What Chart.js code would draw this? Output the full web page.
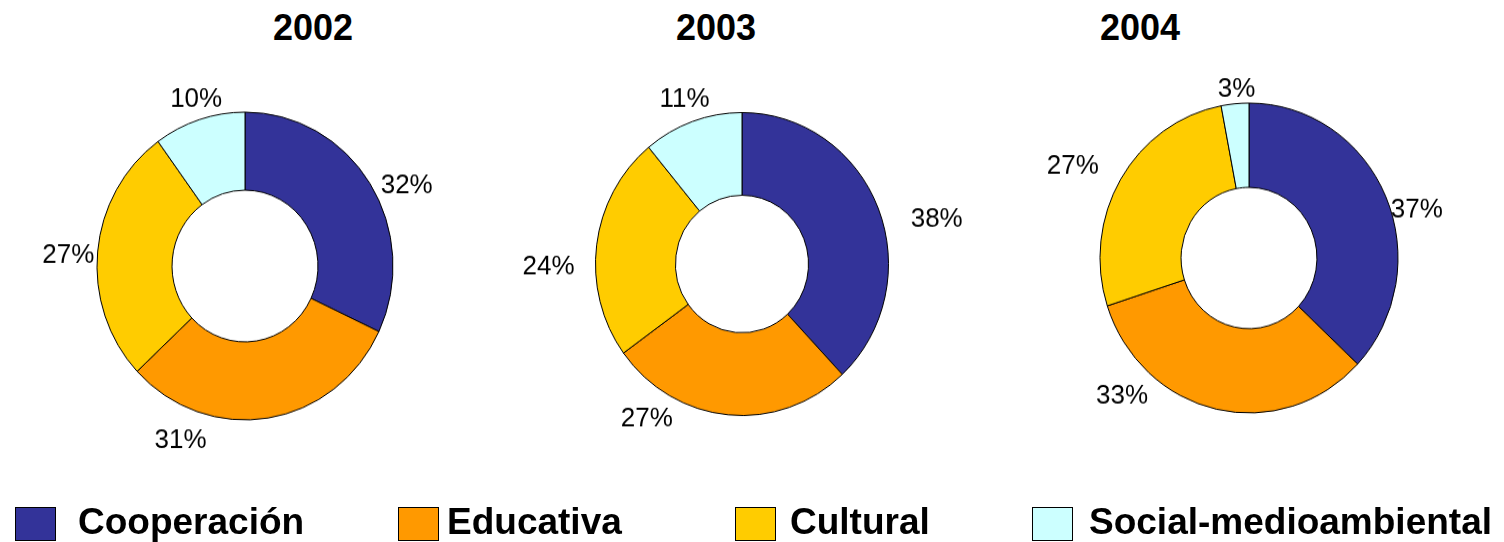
<!DOCTYPE html>
<html>
<head>
<meta charset="utf-8">
<script src="https://cdn.jsdelivr.net/npm/chart.js@4/dist/chart.umd.min.js"></script>
<style>
  html, body { margin: 0; padding: 0; background: #fff; }
  body { width: 1504px; height: 542px; position: relative; overflow: hidden; font-family: "Liberation Sans", Arial, sans-serif; }
  .title { position: absolute; top: 8px; width: 200px; margin-left: -100px; text-align: center; font-weight: bold; font-size: 36px; line-height: 40px; color: #000; }
  .wrap { position: absolute; width: 460px; height: 460px; transform-origin: 50% 50%; }
  .wrap canvas { display: block; }
  .sw { position: absolute; width: 39px; height: 32px; border: 1px solid #000; }
  .lt { position: absolute; font-weight: bold; font-size: 37px; line-height: 42px; white-space: nowrap; color: #000; }
</style>
</head>
<body>
<script>
// ---- data ----
const categories = ['Cooperación', 'Educativa', 'Cultural', 'Social-medioambiental'];
const years = ['2002', '2003', '2004'];
const values2002 = [32, 31, 27, 10];
const values2003 = [38, 27, 24, 11];
const values2004 = [37, 33, 27, 3];
const colors = ['#333399', '#FF9900', '#FFCC00', '#CCFFFF'];

const seriesByYear = [values2002, values2003, values2004];

// ---- layout (positions/styles) ----
const chartLayout = [
  { cx: 245, cy: 266, radius: 148, cutout: '49.3%', sy: 1.04, titleX: 313,
    shift: [7, 30, -2, 1], gap: [31, 32, 29, 19] },
  { cx: 742, cy: 264, radius: 146.5, cutout: '45.4%', sy: 1.034, titleX: 716,
    shift: [9, 27, -8, 0], gap: [53, 31, 47, 23] },
  { cx: 1249, cy: 258, radius: 149, cutout: '45.6%', sy: 1.04, titleX: 1140,
    shift: [8, 31, -4, 1], gap: [25, 35, 48, 14] }
];
const legendX = [15, 398, 735, 1032];
const legendTextX = [78, 447, 790, 1089];

const outsideLabels = {
  id: 'outsideLabels',
  afterDatasetsDraw(chart, args, opts) {
    const ctx = chart.ctx;
    const meta = chart.getDatasetMeta(0);
    const data = chart.data.datasets[0].data;
    ctx.save();
    ctx.font = opts.font;
    ctx.fillStyle = opts.color;
    ctx.textAlign = 'center';
    ctx.textBaseline = 'middle';
    meta.data.forEach((arc, i) => {
      const p = arc.getProps(['x', 'y', 'startAngle', 'endAngle', 'outerRadius'], true);
      const a = (p.startAngle + p.endAngle) / 2 + (opts.shift[i] || 0) * Math.PI / 180;
      const r = p.outerRadius + (opts.gap[i] || 0);
      ctx.fillText(data[i] + '%', p.x + r * Math.cos(a), p.y + r * Math.sin(a));
    });
    ctx.restore();
  }
};

years.forEach((yr, k) => {
  const L = chartLayout[k];
  const t = document.createElement('div');
  t.className = 'title';
  t.style.left = L.titleX + 'px';
  t.textContent = yr;
  document.body.appendChild(t);

  const w = document.createElement('div');
  w.className = 'wrap';
  w.style.left = (L.cx - 230) + 'px';
  w.style.top = (L.cy - 230) + 'px';
  w.style.transform = 'scale(1,' + L.sy + ')';
  const c = document.createElement('canvas');
  c.width = 460; c.height = 460;
  c.style.width = '460px'; c.style.height = '460px';
  w.appendChild(c);
  document.body.appendChild(w);

  new Chart(c, {
    type: 'doughnut',
    data: {
      labels: categories,
      datasets: [{
        data: seriesByYear[k],
        backgroundColor: colors,
        borderColor: '#000',
        borderWidth: 1
      }]
    },
    options: {
      responsive: false,
      animation: false,
      devicePixelRatio: 1,
      radius: L.radius,
      cutout: L.cutout,
      layout: { padding: 0 },
      plugins: {
        legend: { display: false },
        tooltip: { enabled: false },
        title: { display: false },
        outsideLabels: {
          font: '26px "Liberation Sans", Arial, sans-serif',
          color: '#000',
          shift: L.shift,
          gap: L.gap
        }
      }
    },
    plugins: [outsideLabels]
  });
});

categories.forEach((name, i) => {
  const sw = document.createElement('div');
  sw.className = 'sw';
  sw.style.left = legendX[i] + 'px';
  sw.style.top = '507px';
  sw.style.background = colors[i];
  document.body.appendChild(sw);
  const tx = document.createElement('div');
  tx.className = 'lt';
  tx.style.left = legendTextX[i] + 'px';
  tx.style.top = '501px';
  tx.textContent = name;
  document.body.appendChild(tx);
});
</script>
</body>
</html>
